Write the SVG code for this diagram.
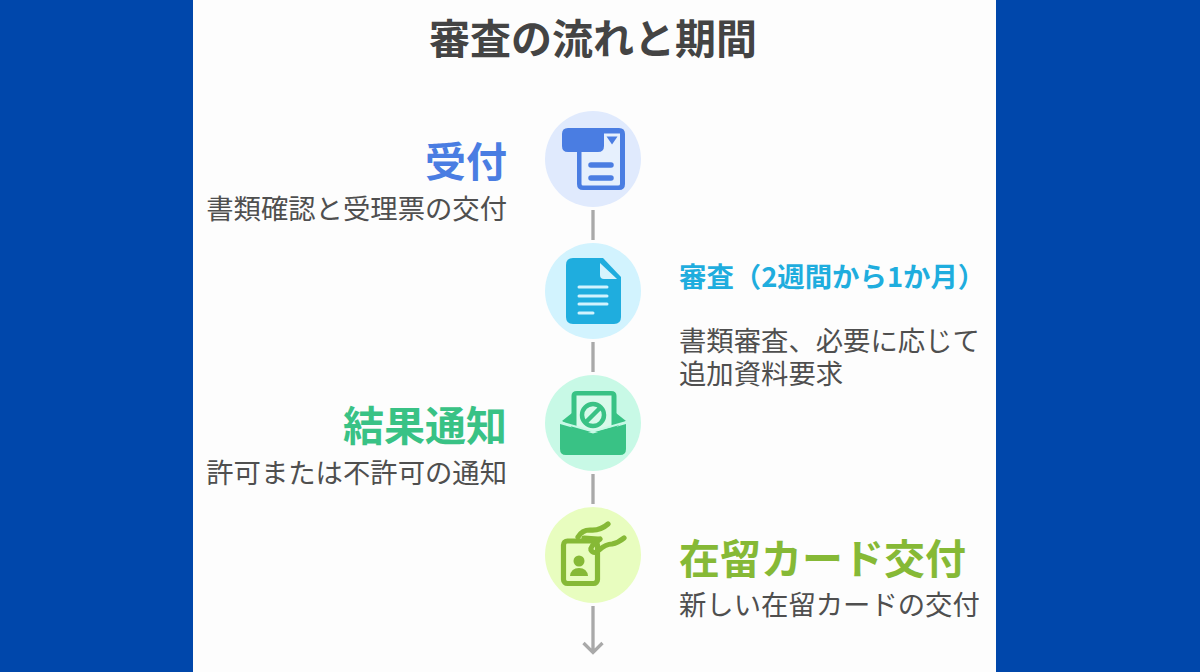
<svg xmlns="http://www.w3.org/2000/svg" width="1200" height="672" viewBox="0 0 1200 672">
<style>
text{font-family:"Noto Sans CJK JP","Noto Sans",sans-serif}
.t{font-weight:700;font-size:41px}
.d{font-size:27.350px;fill:#4f4f4f;font-weight:400}
.c{stroke:#a9a9a9;stroke-width:3.300;fill:none}
</style>
<rect width="1200" height="672" fill="#0047ab"/>
<rect x="193" width="803" height="672" fill="#fdfdfd"/>
<text x="593" y="54" text-anchor="middle" class="t" fill="#444">審査の流れと期間</text>
<g id="connectors">
<path class="c" d="M593 210V240M593 342V372M593 474V504M593 606V652M583.500 643L593 652.500L602.500 643"/>
</g>
<g id="node1">
<circle cx="593" cy="159" r="48" fill="#e0eafd"/>
<path d="M577 152V184Q577 190 583 190H619Q625 190 625 184V134Q625 128 619 128H568Q562 128 562 134V146Q562 152 568 152Z" fill="#4a7de2"/>
<path d="M604 133.500H620V184Q620 185.500 618 185.500H583Q581.500 185.500 581.500 184V152H598Q604 152 604 146Z" fill="#e6f0fd"/>
<path d="M606.500 136.500H617.500L612 144.500Z" fill="#4a7de2"/>
<path d="M591 165H611M591 178H611" stroke="#4a7de2" stroke-width="5.500" stroke-linecap="round"/>
<text x="507" y="177" text-anchor="end" class="t" fill="#4a7de2">受付</text>
<text x="507" y="219" text-anchor="end" class="d">書類確認と受理票の交付</text>
</g>
<g id="node2">
<circle cx="593" cy="291" r="48" fill="#d2f3fe"/>
<path d="M573 258H603L621 277V317Q621 324 614 324H573Q566 324 566 317V265Q566 258 573 258Z" fill="#1fadde"/>
<path d="M600 263V275Q600 279 604 279H617Z" fill="#d8f4fd"/>
<path d="M579 287H607M579 296H607M579 304H607M579 313H593" stroke="#d2f3fe" stroke-width="3" stroke-linecap="round"/>
<text x="679" y="287" font-weight="700" font-size="27.400" fill="#1fadde">審査（2週間から1か月）</text>
<text class="d"><tspan x="679" y="351">書類審査、必要に応じて</tspan><tspan x="679" y="384">追加資料要求</tspan></text>
</g>
<g id="node3">
<circle cx="593" cy="423" r="48" fill="#c8f9e6"/>
<path d="M572 413L562 421L572 427ZM616 413L626 421L616 427Z" fill="#39c285"/>
<path d="M571.500 432V396Q571.500 391 577 391H611Q616.500 391 616.500 396V432Z" fill="#39c285"/>
<path d="M576.500 395.500H611.500V427L593 432L576.500 427Z" fill="#d8faeb"/>
<path d="M556 421L593 431.500L630 421" fill="none" stroke="#c8f9e6" stroke-width="2"/>
<path d="M560 424L593 433.500L626 424V449Q626 455 620 455H566Q560 455 560 449Z" fill="#39c285"/>
<circle cx="593" cy="415" r="11" fill="none" stroke="#39c285" stroke-width="4.500"/>
<path d="M586 422L600 408" stroke="#39c285" stroke-width="4.500"/>
<text x="507" y="441" text-anchor="end" class="t" fill="#39c285">結果通知</text>
<text x="507" y="483" text-anchor="end" class="d">許可または不許可の通知</text>
</g>
<g id="node4">
<circle cx="593" cy="555" r="48" fill="#e8fdbf"/>
<rect x="563.500" y="541" width="34" height="42.500" rx="4" fill="none" stroke="#86b936" stroke-width="5.200"/>
<circle cx="579" cy="561" r="5.500" fill="#86b936"/>
<path d="M570 576Q571 568 579 568Q587 568 588 576Z" fill="#86b936"/>
<path d="M578 537Q582 530 590 530Q600 531 608 524" fill="none" stroke="#86b936" stroke-width="5.200" stroke-linecap="round"/>
<path d="M584 538L598 539" fill="none" stroke="#86b936" stroke-width="5.200" stroke-linecap="round"/>
<path d="M600 539Q590 546 591 550Q594 555 599 550Q606 544 612 544Q618 543 624 538" fill="none" stroke="#86b936" stroke-width="5.200" stroke-linecap="round"/>
<text x="679" y="574" class="t" fill="#86b936">在留カード交付</text>
<text x="679" y="615" class="d">新しい在留カードの交付</text>
</g>
</svg>
